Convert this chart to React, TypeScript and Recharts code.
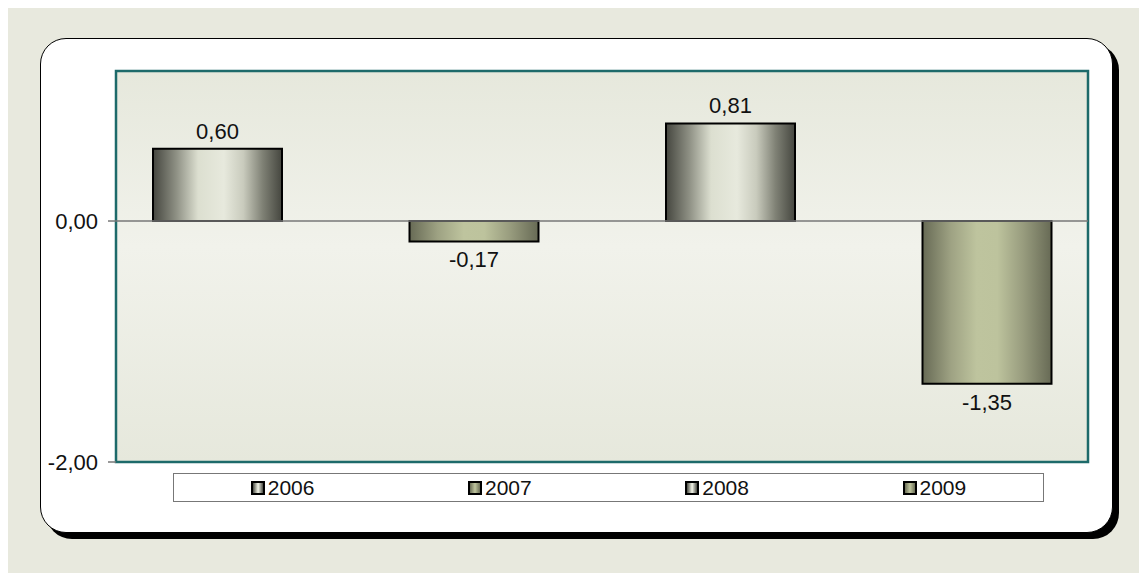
import { BarChart, Bar, XAxis, YAxis, CartesianGrid, ReferenceLine, ReferenceArea, LabelList } from 'recharts';

const years = ['2006', '2007', '2008', '2009'];
const values = [0.6, -0.17, 0.81, -1.35];
const yTicks = [-2, 0];
const gradientIds = ['greyBar', 'oliveBar', 'greyBar', 'oliveBar'];

const row: Record<string, number | string> = { name: '' };
years.forEach((y, i) => {
  row['y' + y] = values[i];
});
const data = [row];

const fmt = (v: number) => v.toFixed(2).replace('.', ',');

const FONT = '"Liberation Sans", Arial, sans-serif';

const swatchCss: Record<string, string> = {
  greyBar: 'linear-gradient(to right, #4a4b43, #dfe1d4 45%, #e6e8dc 55%, #4a4b43)',
  oliveBar: 'linear-gradient(to right, #6b6e57, #bfc59e 50%, #6b6e57)',
};

const renderLabel = (props: any) => {
  const { x, y, width, height, value } = props;
  const top = Math.min(y, y + height);
  const bottom = Math.max(y, y + height);
  const cy = value >= 0 ? top - 10 : bottom + 26;
  return (
    <text x={x + width / 2} y={cy} textAnchor="middle" fontSize={22} fontFamily={FONT} fill="#111">
      {fmt(value)}
    </text>
  );
};

export default function App() {
  return (
    <div style={{ position: 'relative', width: 1140, height: 565, background: '#e8e9de', fontFamily: FONT }}>
      <div
        style={{
          position: 'absolute',
          left: 32,
          top: 30,
          width: 1073,
          height: 495,
          boxSizing: 'border-box',
          border: '1.5px solid #000',
          borderRadius: 26,
          boxShadow: '6px 6px 0 #000',
          background: '#fff',
        }}
      />
      <div style={{ position: 'absolute', left: 0, top: 0 }}>
        <BarChart
          width={1140}
          height={565}
          data={data}
          margin={{ top: 63, right: 60, bottom: 111, left: 0 }}
          barGap={127.5}
          barSize={129}
        >
          <defs>
            <linearGradient id="plotBg" x1="0" y1="0" x2="0" y2="1">
              <stop offset="0%" stopColor="#e6e8dc" />
              <stop offset="45%" stopColor="#f1f2eb" />
              <stop offset="100%" stopColor="#e6e8dc" />
            </linearGradient>
            <linearGradient id="greyBar" x1="0" y1="0" x2="1" y2="0">
              <stop offset="0%" stopColor="#45463f" />
              <stop offset="18%" stopColor="#8e9084" />
              <stop offset="35%" stopColor="#dcdfd0" />
              <stop offset="55%" stopColor="#e7e9dd" />
              <stop offset="70%" stopColor="#c9cbbd" />
              <stop offset="85%" stopColor="#7f8175" />
              <stop offset="100%" stopColor="#45463f" />
            </linearGradient>
            <linearGradient id="oliveBar" x1="0" y1="0" x2="1" y2="0">
              <stop offset="0%" stopColor="#676a55" />
              <stop offset="22%" stopColor="#9ea283" />
              <stop offset="42%" stopColor="#bec49e" />
              <stop offset="58%" stopColor="#bdc39d" />
              <stop offset="78%" stopColor="#989c7e" />
              <stop offset="100%" stopColor="#676a55" />
            </linearGradient>
          </defs>
          <CartesianGrid horizontal={false} vertical={false} fill="url(#plotBg)" />
          <XAxis dataKey="name" hide />
          <YAxis
            width={108}
            domain={[-2, 1.245]}
            ticks={yTicks}
            tickFormatter={fmt}
            axisLine={false}
            tickLine={{ stroke: '#777', strokeWidth: 1.5 }}
            tickSize={8}
            tickMargin={10}
            tick={{ fontSize: 22, fontFamily: FONT, fill: '#111' }}
            allowDataOverflow
          />
          <ReferenceLine y={0} stroke="#777" strokeWidth={1.5} />
          {years.map((y, i) => (
            <Bar
              key={y}
              dataKey={'y' + y}
              name={y}
              fill={`url(#${gradientIds[i]})`}
              stroke="#000"
              strokeWidth={2}
              isAnimationActive={false}
            >
              <LabelList dataKey={'y' + y} content={renderLabel} />
            </Bar>
          ))}
          <ReferenceArea y1={-2} y2={1.245} fill="none" stroke="#1d6a6a" strokeWidth={2.5} ifOverflow="visible" />
        </BarChart>
      </div>
      <div
        style={{
          position: 'absolute',
          left: 165,
          top: 465,
          width: 871,
          height: 29,
          boxSizing: 'border-box',
          border: '1.5px solid #777',
          background: '#fff',
          display: 'flex',
        }}
      >
        {years.map((y, i) => (
          <div key={y} style={{ flex: 1, display: 'flex', alignItems: 'center', justifyContent: 'center' }}>
            <span
              style={{
                width: 10,
                height: 10,
                border: '2px solid #000',
                background: swatchCss[gradientIds[i]],
                display: 'inline-block',
                marginRight: 3,
              }}
            />
            <span style={{ fontSize: 21, color: '#111' }}>{y}</span>
          </div>
        ))}
      </div>
    </div>
  );
}
